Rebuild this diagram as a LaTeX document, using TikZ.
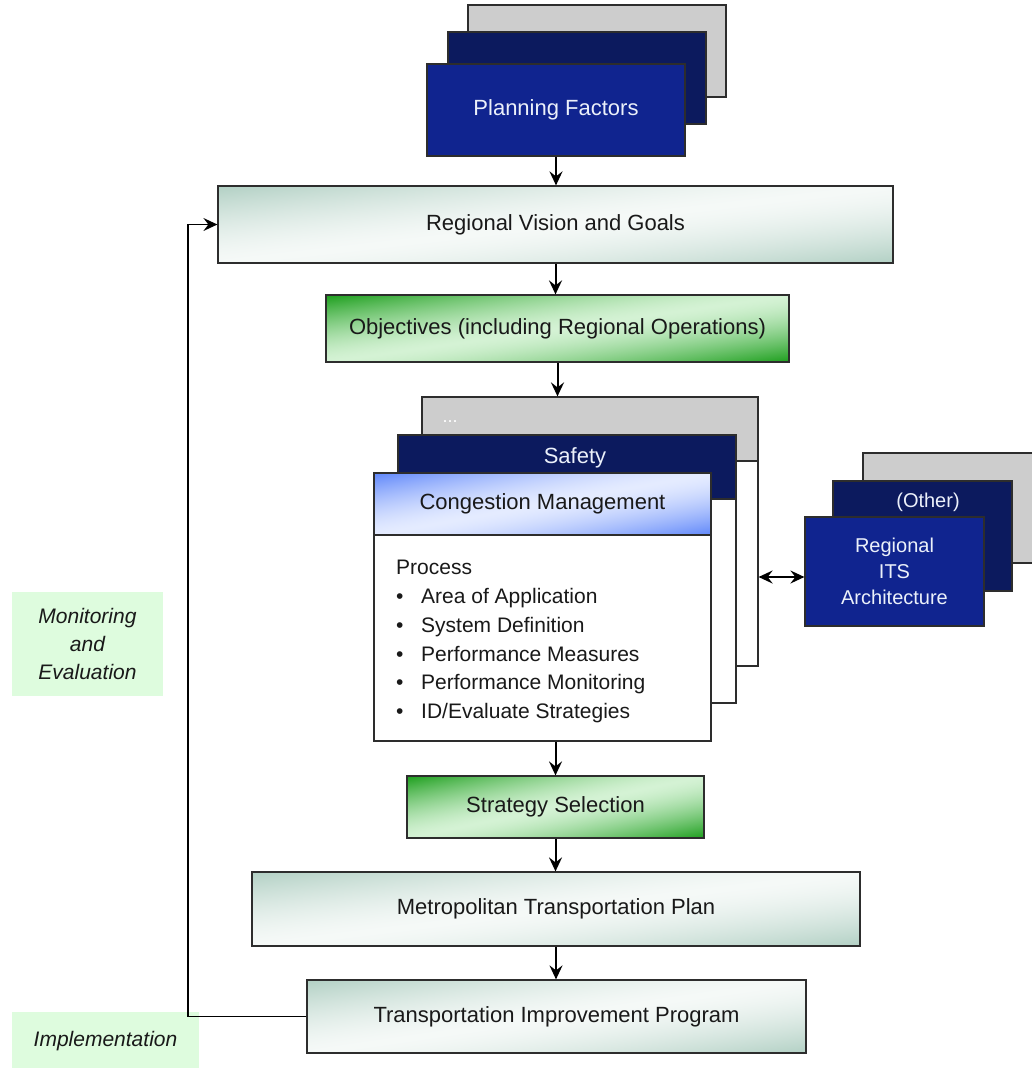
\documentclass[tikz,border=0pt]{standalone}
\usepackage{fontspec}
\setmainfont{Liberation Sans}
\usetikzlibrary{arrows.meta}

\definecolor{cardgray}{RGB}{205,205,205}
\definecolor{cardnavy}{RGB}{12,26,94}
\definecolor{cardblue}{RGB}{16,36,143}
\definecolor{stagegreen}{RGB}{222,252,222}
\definecolor{edgegray}{RGB}{45,45,45}
\definecolor{lighttext}{RGB}{235,240,250}
\definecolor{darktext}{RGB}{25,25,25}

% diagonal fill: light along the box diagonal, dark in two corners
% #2-#4 light colour, #5-#7 dark minus light
\newcommand{\declarediag}[7]{%
  \pgfdeclarefunctionalshading{#1}{\pgfpointorigin}{\pgfpoint{100bp}{100bp}}{}{%
    sub 50 div abs dup sqrt mul dup 1 gt {pop 1} if
    dup dup #5 mul #2 add exch #6 mul #3 add 3 2 roll #7 mul #4 add}}
\declarediag{diagteal}{0.961}{0.976}{0.969}{-0.263}{-0.160}{-0.200}
\declarediag{diaggreen}{0.831}{0.949}{0.831}{-0.721}{-0.329}{-0.721}
\declarediag{diagblue}{0.894}{0.922}{1.0}{-0.521}{-0.393}{-0.020}

\newcommand{\procitem}{\makebox[25pt][l]{\textbullet}}

\begin{document}
\begin{tikzpicture}[x=1pt, y=-1pt,
    font=\fontsize{22}{27}\selectfont, text=darktext,
    card/.style={draw=edgegray, line width=1.2pt, inner sep=0pt},
    graycard/.style={card, fill=cardgray},
    navycard/.style={card, fill=cardnavy, text=lighttext},
    bluecard/.style={card, fill=cardblue, text=lighttext},
    whitecard/.style={card, fill=white},
    tealbox/.style={card, shade, shading=diagteal},
    greenbox/.style={card, shade, shading=diaggreen},
    bluehead/.style={card, shade, shading=diagblue},
    stagelabel/.style={fill=stagegreen, inner sep=0pt, align=center, font=\fontsize{21}{28}\selectfont\itshape},
    flow/.style={-{Stealth[length=14pt,width=13pt,inset=5pt]}, line width=2pt},
    twoway/.style={{Stealth[length=14pt,width=13pt,inset=5pt]}-{Stealth[length=14pt,width=13pt,inset=5pt]}, line width=2pt},
    feedback/.style={-{Stealth[length=14pt,width=13pt,inset=5pt]}, line width=1.5pt}]
    \useasboundingbox (0,0) rectangle (1032,1068);

    % Planning factors
    \node[graycard, minimum width=258pt, minimum height=92pt] (pfback) at (597,51) {};
    \node[navycard, minimum width=258pt, minimum height=92pt] (pfmid) at (577,78) {};
    \node[bluecard, minimum width=258pt, minimum height=92pt] (planning) at (556,110) {Planning Factors};

    % Main flow
    \node[tealbox, minimum width=675pt, minimum height=77pt] (vision) at (555.5,224.5) {Regional Vision and Goals};
    \node[greenbox, minimum width=463pt, minimum height=67pt] (objectives) at (557.5,328.5) {Objectives (including Regional Operations)};

    % Stack of operations cards
    \node[whitecard, minimum width=336pt, minimum height=205pt] (otherbody) at (590,563.5) {};
    \node[graycard, minimum width=336pt, minimum height=64pt] (otherhead) at (590,429) {};
    \node[text=white, font=\fontsize{18}{20}\selectfont] (dots) at (450,422) {...};
    \node[whitecard, minimum width=338pt, minimum height=204pt] (safetybody) at (567,601) {};
    \node[navycard, minimum width=338pt, minimum height=64pt] (safetyhead) at (567,467) {};
    \node[text=lighttext] (safety) at (575,458) {Safety};
    \node[whitecard, minimum width=337pt, minimum height=206pt] (cmbody) at (542.5,638) {};
    \node[bluehead, minimum width=337pt, minimum height=62pt] (cmhead) at (542.5,504) {Congestion Management};
    \node[anchor=north west, align=left, inner sep=0pt, font=\fontsize{21}{28.8}\selectfont] (process) at (396,560) {Process\\
        \procitem Area of Application\\
        \procitem System Definition\\
        \procitem Performance Measures\\
        \procitem Performance Monitoring\\
        \procitem ID/Evaluate Strategies};

    % ITS architecture
    \node[graycard, minimum width=190pt, minimum height=110pt] (itsback) at (958,508) {};
    \node[navycard, minimum width=179pt, minimum height=110pt] (itsmid) at (922.5,536) {};
    \node[text=lighttext, font=\fontsize{20}{24}\selectfont] (other) at (928,502) {(Other)};
    \node[bluecard, minimum width=179pt, minimum height=109pt, align=center, font=\fontsize{20}{26}\selectfont] (its) at (894.5,571.5) {Regional\\ITS\\Architecture};

    \node[greenbox, minimum width=297pt, minimum height=62pt] (strategy) at (555.5,807) {Strategy Selection};
    \node[tealbox, minimum width=608pt, minimum height=74pt] (mtp) at (556,909) {Metropolitan Transportation Plan};
    \node[tealbox, minimum width=499pt, minimum height=73pt] (tip) at (556.5,1016.5) {Transportation Improvement Program};

    % Stage labels
    \node[stagelabel, minimum width=151pt, minimum height=104pt] (monitoring) at (87.5,644) {Monitoring\\and\\Evaluation};
    \node[stagelabel, minimum width=187pt, minimum height=58pt] (implementation) at (105.5,1041) {Implementation};

    % Arrows
    \draw[flow] (planning.south) -- (planning.south |- vision.north);
    \draw[flow] (vision.south) -- (vision.south |- objectives.north);
    \draw[flow] (objectives.south) -- (objectives.south |- otherhead.north);
    \draw[flow] (cmbody.south -| strategy.north) -- (strategy.north);
    \draw[flow] (strategy.south) -- (strategy.south |- mtp.north);
    \draw[flow] (mtp.south) -- (mtp.south |- tip.north);
    \coordinate (link) at ([yshift=-5.5pt]its.west);
    \draw[twoway] (link -| otherbody.east) -- (link);

    % Feedback loop
    \coordinate (loopx) at (188,0);
    \draw[feedback] (tip.west) -| (loopx |- vision.west) -- (vision.west);
\end{tikzpicture}
\end{document}
